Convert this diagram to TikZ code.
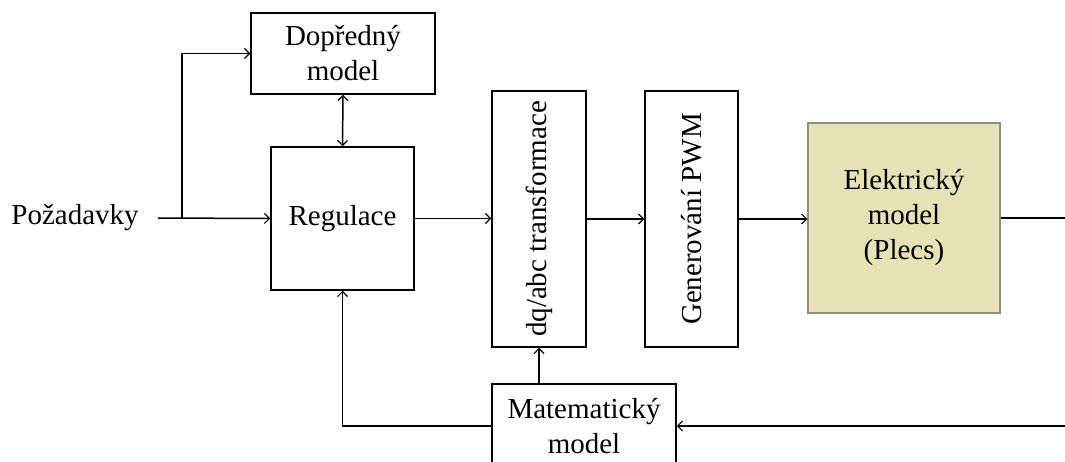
\documentclass[tikz,border=0pt]{standalone}
\usepackage{fontspec}
\setmainfont{Liberation Serif}
\usetikzlibrary{arrows.meta}
\definecolor{elfill}{HTML}{E6E2B8}
\definecolor{eldraw}{HTML}{8E8E7C}
\begin{document}
\begin{tikzpicture}[x=1pt,y=-1pt,
  font=\fontsize{29}{35}\selectfont,
  blk/.style={draw, line width=1.5pt, inner sep=0pt, align=center, rectangle},
  conn/.style={line width=1.5pt, -{Straight Barb[length=5pt,width=10pt,line width=1.2pt]}},
  biconn/.style={line width=1.5pt, {Straight Barb[length=5pt,width=10pt,line width=1.2pt]}-{Straight Barb[length=5pt,width=10pt,line width=1.2pt]}},
  plain/.style={line width=1.5pt}]
\useasboundingbox (0,0) rectangle (1065,462);
\clip (0,0) rectangle (1065,462);
\node[inner xsep=19pt, inner ysep=0pt] (poz) at (75,218) {Požadavky};
\node[blk, minimum width=184pt, minimum height=81pt] (dop) at (343,53.5) {Dopředný\\model};
\node[blk, minimum width=143pt, minimum height=143pt] (reg) at (342.5,218.5) {Regulace};
\node[blk, minimum width=94pt, minimum height=256pt] (dq) at (539,219) {};
\node[rotate=90] (dqt) at (dq.center) {dq/abc transformace};
\node[blk, minimum width=93pt, minimum height=256pt] (pwm) at (691.5,219) {};
\node[rotate=90] (pwmt) at (pwm.center) {Generování PWM};
\node[blk, draw=eldraw, line width=1.1pt, fill=elfill, minimum width=192pt, minimum height=190pt] (ele) at (904,218) {Elektrický\\model\\(Plecs)};
\node[blk, minimum width=184pt, minimum height=84pt] (mat) at (584,426) {Matematický\\model};
\coordinate (br) at (182,218);
\coordinate (rt) at (1080,218);
\draw[conn] (poz.east) -- (reg.west);
\draw[conn] (br) |- (dop.west);
\draw[biconn] (dop.south) -- (reg.north);
\draw[conn] (reg.east) -- (reg.east -| dq.west);
\draw[conn] (dq.east) -- (pwm.west);
\draw[conn] (pwm.east) -- (pwm.east -| ele.west);
\draw[plain] (ele.east) -- (rt);
\draw[conn] (rt) |- (mat.east);
\draw[conn] (dq.south |- mat.north) -- (dq.south);
\draw[conn] (mat.west) -| (reg.south);
\end{tikzpicture}
\end{document}
